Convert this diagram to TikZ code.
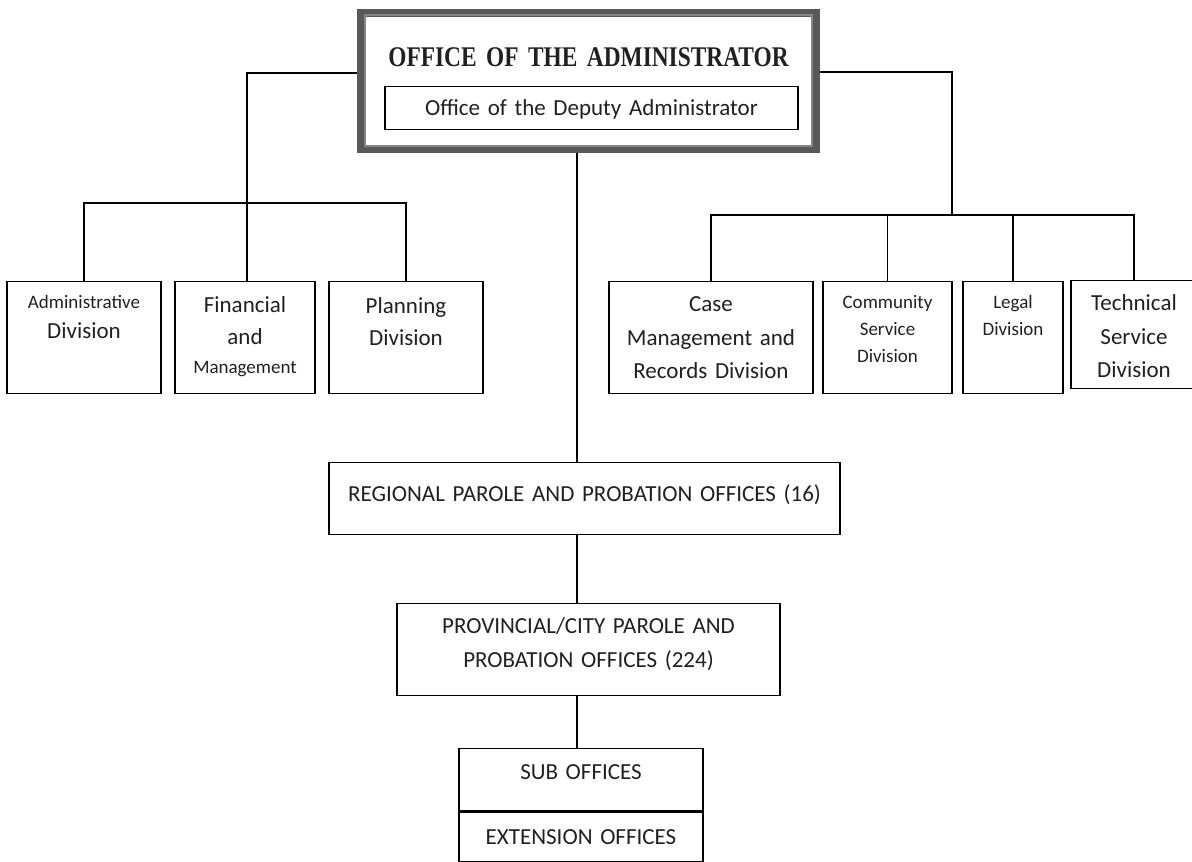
\documentclass[tikz,border=0pt]{standalone}
\usepackage{fontspec}
\usepackage{tikz}
\usepackage{xcolor}
\setmainfont{Carlito}
\newfontfamily\headserif[FakeStretch=0.82,WordSpace=0.6]{Liberation Serif}
\usetikzlibrary{backgrounds, calc}
\definecolor{FrameGray}{HTML}{595959}
\definecolor{RuleGray}{HTML}{858585}
\definecolor{InkBlack}{HTML}{231F20}
\newcommand{\bigtxt}{\fontsize{23}{32}\selectfont}
\newcommand{\smalltxt}{\fontsize{19}{29}\selectfont}
\tikzset{
    % Node styles - top aligned text, sharp corners
    orgbox/.style={
        rectangle,
        draw=black,
        line width=1.4pt,
        inner sep=0pt,
        anchor=north,
        align=center,
        text=InkBlack,
        font=\bigtxt
    },
    headbox/.style={
        rectangle,
        draw=FrameGray,
        line width=8pt,
        inner sep=0pt,
        anchor=north,
        align=center,
        text=InkBlack,
        font=\headserif\bfseries\fontsize{28.5}{30}\selectfont
    },
    % width, room above first baseline, room below it
    boxsize/.style n args={3}{
        text width=#1pt,
        text height=#2pt,
        text depth=#3pt
    },
    % Line styles
    link/.style={
        draw=black,
        line width=1.4pt
    },
    innerrule/.style={
        draw=RuleGray,
        line width=2pt
    }
}
\begin{document}
\begin{tikzpicture}[x=1pt,y=-1pt]
            \useasboundingbox (0,0) rectangle (1192,862);

            % Head office
            \node[headbox,boxsize={455}{53}{83}] (office) at (588.5,9) {OFFICE OF THE ADMINISTRATOR};
            \draw[innerrule] ([shift={(8,6)}]office.north west) rectangle ([shift={(-8,-7)}]office.south east);
            \node[orgbox,boxsize={413}{29}{14}] (deputy) at (591.5,86) {Office of the Deputy Administrator};

            % Left divisions
            \node[orgbox,boxsize={154}{27}{85}] (admin) at (84,281) {{\smalltxt Administrative}\\[-2pt]Division};
            \node[orgbox,boxsize={140}{31}{81}] (fin) at (245,281) {Financial\\and\\[-3pt]{\smalltxt Management}};
            \node[orgbox,boxsize={154}{32}{80}] (plan) at (406,281) {Planning\\Division};

            % Right divisions
            \node[orgbox,boxsize={204}{30}{82},font=\fontsize{23}{33.3}\selectfont] (casemgmt) at (711,281) {Case\\Management and\\Records Division};
            \node[orgbox,boxsize={129}{27}{85},font=\fontsize{19}{27}\selectfont] (community) at (887.5,281) {Community\\Service\\Division};
            \node[orgbox,boxsize={100}{27}{85},font=\fontsize{19}{26.5}\selectfont] (legal) at (1013,281) {Legal\\Division};
            \node[orgbox,boxsize={126}{30}{78},font=\fontsize{23}{33.5}\selectfont] (technical) at (1134,280) {Technical\\Service\\Division};

            % Field offices
            \node[orgbox,boxsize={511}{39}{33}] (regional) at (584.5,462) {REGIONAL PAROLE AND PROBATION OFFICES (16)};
            \node[orgbox,boxsize={383}{30}{62},font=\fontsize{23}{34}\selectfont] (provincial) at (588.5,603) {PROVINCIAL/CITY PAROLE AND\\PROBATION OFFICES (224)};
            \node[orgbox,boxsize={244}{31}{31}] (sub) at (581,748) {SUB OFFICES};
            \node[orgbox,boxsize={244}{32}{18}] (extension) at (sub.south) {EXTENSION OFFICES};

            % Connectors
            \coordinate (lhub) at (247,203);
            \coordinate (rhub) at (952,215);
            \coordinate (spine) at (577,0);
            \begin{scope}[on background layer]
                \draw[link] ([yshift=8pt]office.west) -| (lhub);
                \draw[link] (admin.north) |- (lhub) -| (plan.north);
                \draw[link] (lhub) -- (lhub |- fin.north);
                \draw[link] ([yshift=9pt]office.east) -| (rhub);
                \draw[link] (casemgmt.north) |- (rhub) -| (technical.north);
                \draw[link] (community.north) -- (community.north |- rhub);
                \draw[link] (legal.north) -- (legal.north |- rhub);
                \draw[link] (office.south -| spine) -- (regional.north -| spine);
                \draw[link] (regional.south -| spine) -- (provincial.north -| spine);
                \draw[link] (provincial.south -| spine) -- (sub.north -| spine);
            \end{scope}
        \end{tikzpicture}
\end{document}
